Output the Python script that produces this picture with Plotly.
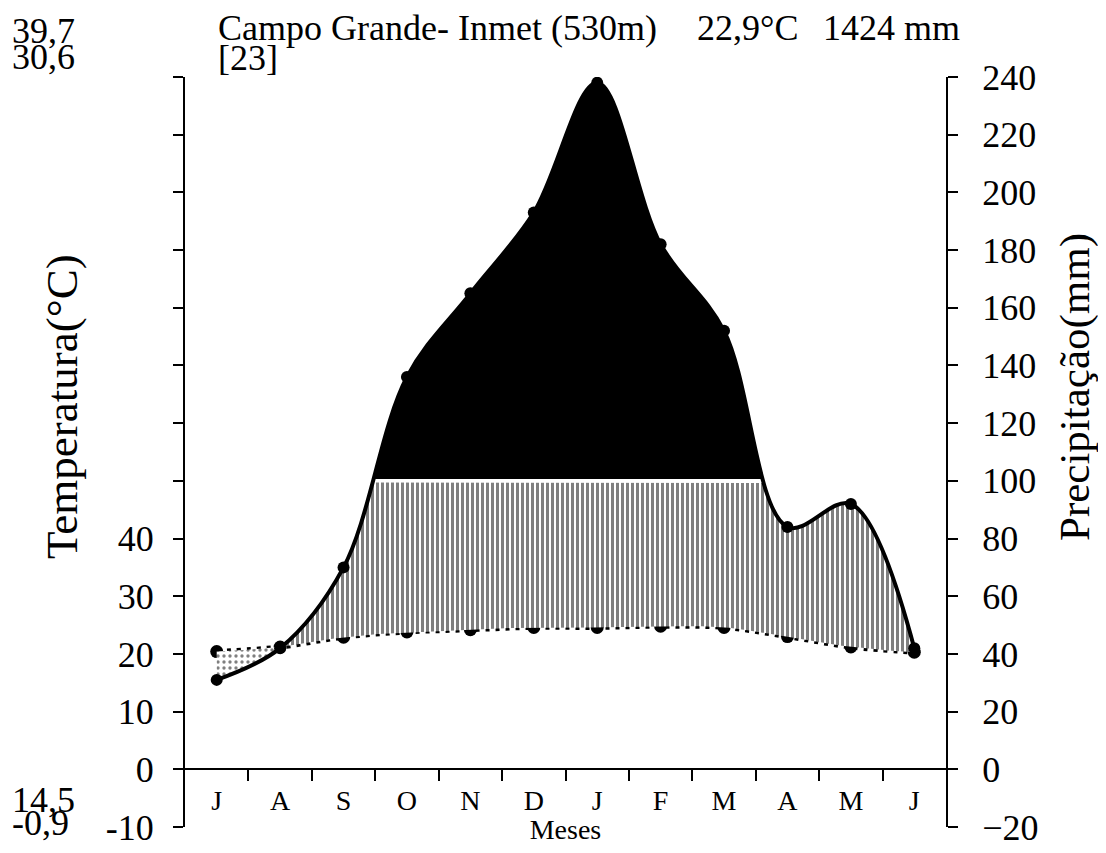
import numpy as np
import plotly.graph_objects as go

# ---------------- data ----------------
months = ["J", "A", "S", "O", "N", "D", "J", "F", "M", "A", "M", "J"]
temperature = [20.4, 21.2, 22.9, 23.8, 24.2, 24.6, 24.6, 24.8, 24.6, 23.0, 21.2, 20.3]   # °C
precipitation = [31, 42, 70, 136, 165, 193, 238, 182, 152, 84, 92, 42]                  # mm

temp_ticks = list(range(-10, 121, 10))
temp_labels = [str(v) if v <= 40 else "" for v in temp_ticks]
prec_ticks = list(range(-20, 241, 20))

station = "Campo Grande- Inmet (530m)"
mean_temp = "22,9°C"
annual_prec = "1424 mm"
years = "[23]"
abs_max, mean_max, mean_min, abs_min = "39,7", "30,6", "14,5", "-0,9"

# ---------------- layout constants ----------------
PAGE_OFFSET = 8                      # default body margin of the html page
FIG_W, FIG_H = 1106 - 2 * PAGE_OFFSET, 853 - 2 * PAGE_OFFSET
ML, MT = 185 - PAGE_OFFSET, 77 - PAGE_OFFSET
MR = FIG_W - (946 - PAGE_OFFSET)
MB = FIG_H - (827 - PAGE_OFFSET)
PW, PH = FIG_W - ML - MR, FIG_H - MT - MB
X_RANGE = [0, 12]
T_RANGE = [-10, 120]
P_RANGE = [-20, 240]
HUMID_LIMIT = 100
FONT = "Liberation Serif"

xpos = np.arange(len(months)) + 0.5


def plotly_spline(xs, ys, smoothing=1.0, n=80):
    """Replicates plotly's spline path (pixel space) to build matching fill polygons."""
    sx = PW / (X_RANGE[1] - X_RANGE[0])
    sy = PH / (P_RANGE[1] - P_RANGE[0])
    pts = np.column_stack([np.asarray(xs, float) * sx, np.asarray(ys, float) * sy])
    tang = []
    for i in range(1, len(pts) - 1):
        p0, p1, p2 = pts[i - 1], pts[i], pts[i + 1]
        d1, d2 = p0 - p1, p2 - p1
        d1a, d2a = (d1 @ d1) ** 0.25, (d2 @ d2) ** 0.25
        num = (d2a * d2a * d1 - d1a * d1a * d2) * smoothing
        tang.append((p1 + num / (3 * d2a * (d1a + d2a)), p1 - num / (3 * d1a * (d1a + d2a))))
    t = np.linspace(0, 1, n)[:, None]
    quad = lambda a, c, b: (1 - t) ** 2 * a + 2 * (1 - t) * t * c + t ** 2 * b
    cub = lambda a, c1, c2, b: ((1 - t) ** 3 * a + 3 * (1 - t) ** 2 * t * c1
                                + 3 * (1 - t) * t ** 2 * c2 + t ** 3 * b)
    segs = [quad(pts[0], tang[0][0], pts[1])]
    for i in range(2, len(pts) - 1):
        segs.append(cub(pts[i - 1], tang[i - 2][1], tang[i - 1][0], pts[i]))
    segs.append(quad(pts[-2], tang[-1][1], pts[-1]))
    c = np.vstack(segs)
    return c[:, 0] / sx, c[:, 1] / sy


# temperature expressed in precipitation units (1 °C = 2 mm)
t_in_mm = [2 * v for v in temperature]
xg = np.linspace(xpos[0], xpos[-1], 3001)
cx, cy = plotly_spline(xpos, precipitation)
Pg = np.interp(xg, cx, cy)
cx, cy = plotly_spline(xpos, t_in_mm)
Tg = np.interp(xg, cx, cy)


def band_traces(lower, upper, **style):
    out = []
    idx = np.flatnonzero(upper > lower + 1e-6)
    if idx.size == 0:
        return out
    runs = np.split(idx, np.flatnonzero(np.diff(idx) > 1) + 1)
    for r in runs:
        xs = np.concatenate([xg[r], xg[r][::-1]])
        ys = np.concatenate([upper[r], lower[r][::-1]])
        out.append(go.Scatter(x=xs, y=ys, yaxis="y2", mode="lines", fill="toself",
                              line=dict(width=0), hoverinfo="skip", showlegend=False, **style))
    return out


fig = go.Figure()

# dry period (stippled)
for tr in band_traces(Pg, Tg, fillcolor="white",
                      fillpattern=dict(shape=".", size=6, solidity=0.25, fgcolor="black", bgcolor="white")):
    fig.add_trace(tr)
# humid period (vertical hatching)
for tr in band_traces(Tg, np.minimum(Pg, HUMID_LIMIT - 0.6), fillcolor="white",
                      fillpattern=dict(shape="|", size=5, solidity=0.6, fgcolor="black", bgcolor="white")):
    fig.add_trace(tr)
# perhumid (black)
for tr in band_traces(np.full_like(Pg, HUMID_LIMIT + 0.6), Pg, fillcolor="black"):
    fig.add_trace(tr)

# temperature curve
fig.add_trace(go.Scatter(x=xpos, y=temperature, yaxis="y", mode="lines+markers",
                         line=dict(color="black", width=5, dash="4px,6px", shape="spline"),
                         marker=dict(color="black", size=13), showlegend=False))
# precipitation curve
fig.add_trace(go.Scatter(x=xpos, y=precipitation, yaxis="y2", mode="lines+markers",
                         line=dict(color="black", width=4, shape="spline"),
                         marker=dict(color="black", size=12), showlegend=False))

axis_common = dict(showgrid=False, zeroline=False, showline=True, linecolor="black", linewidth=2,
                   ticks="outside", ticklen=10, tickwidth=2, tickcolor="black", automargin=False,
                   ticklabeloverflow="allow")

fig.update_layout(
    width=FIG_W, height=FIG_H,
    margin=dict(l=ML, r=MR, t=MT, b=MB, autoexpand=False),
    paper_bgcolor="white", plot_bgcolor="white",
    font=dict(family=FONT, color="black", size=36),
    showlegend=False,
    xaxis=dict(range=X_RANGE, anchor="free", position=(0 - T_RANGE[0]) / (T_RANGE[1] - T_RANGE[0]),
               showgrid=False, zeroline=False, showline=True, linecolor="black", linewidth=2,
               automargin=False, ticklabeloverflow="allow",
               tickvals=list(xpos), ticktext=months, ticks="", tickfont=dict(size=28),
               ticklabelstandoff=6,
               minor=dict(tickvals=list(range(1, 12)), ticks="outside", ticklen=11, tickwidth=2,
                          tickcolor="black", showgrid=False),
               title=dict(text="Meses", font=dict(size=28), standoff=3)),
    yaxis=dict(range=T_RANGE, tickvals=temp_ticks, ticktext=temp_labels, tickfont=dict(size=36),
               ticklabelstandoff=12, **axis_common),
    yaxis2=dict(range=P_RANGE, overlaying="y", side="right", tickvals=prec_ticks,
                tickfont=dict(size=36), ticklabelstandoff=17, **axis_common),
)


def px(xp):
    return (xp - PAGE_OFFSET - ML) / PW


def py(yp):
    return 1 - (yp - PAGE_OFFSET - MT) / PH


def note(text, x, y, size=36, xanchor="left", angle=0):
    fig.add_annotation(text=text, x=px(x), y=py(y), xref="paper", yref="paper", showarrow=False,
                       xanchor=xanchor, yanchor="middle", textangle=angle,
                       font=dict(family=FONT, size=size, color="black"))


note(abs_max, 10, 31)
note(mean_max, 10, 57)
note(mean_min, 10, 800)
note(abs_min, 10, 823)
note(station, 216, 28)
note(mean_temp, 695, 28)
note(annual_prec, 821, 28)
note(years, 216, 58)
note("Temperatura(°C)", 62, 407, size=45, xanchor="center", angle=-90)
note("Precipitação(mm)", 1075, 387, size=43, xanchor="center", angle=-90)

fig.write_html("out.html")
